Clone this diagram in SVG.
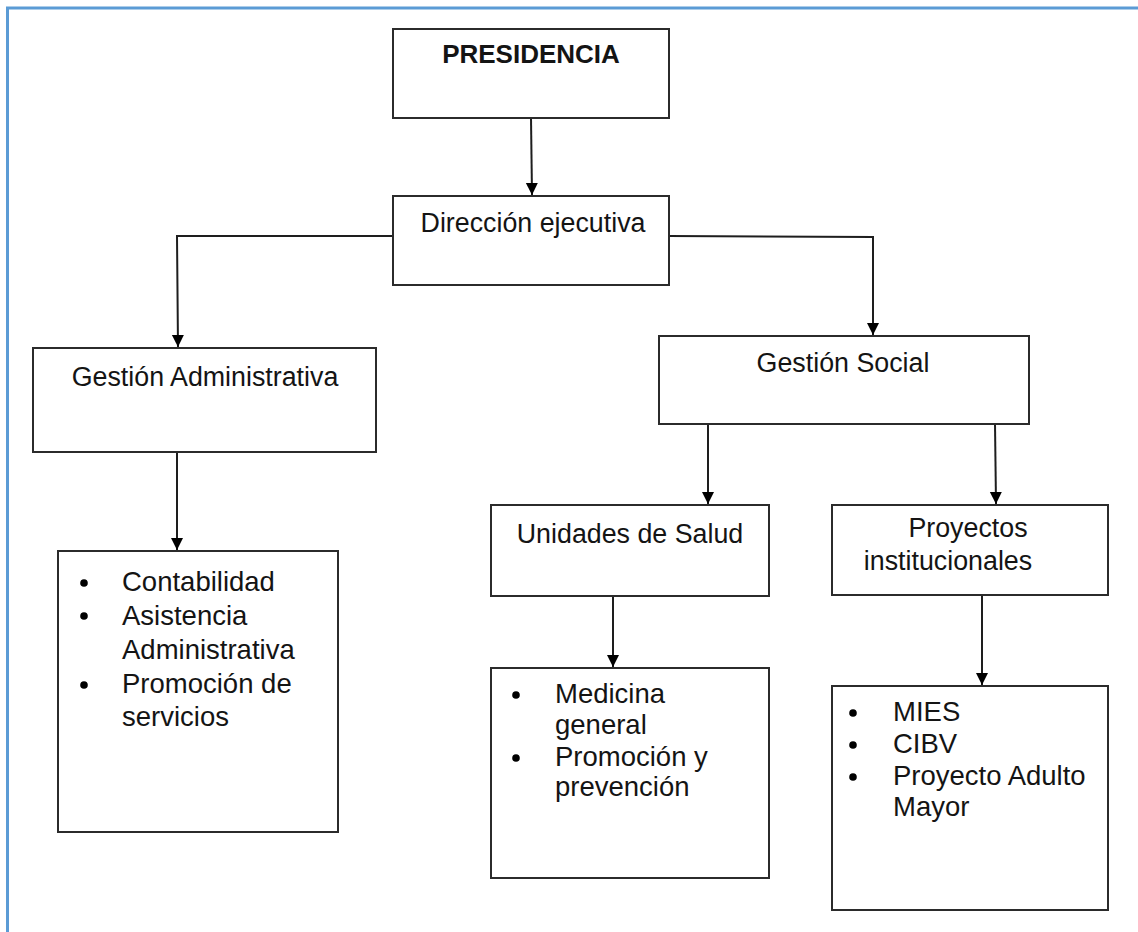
<svg xmlns="http://www.w3.org/2000/svg" width="1138" height="932" viewBox="0 0 1138 932">
  <style>
    .box { fill: #ffffff; stroke: #2b2b2b; stroke-width: 2; }
    .title { font-family: "Liberation Sans", Arial, sans-serif; font-size: 26.8px; fill: #141414; text-anchor: middle; }
    .bold { font-weight: bold; font-size: 26px; }
    .item { font-family: "Liberation Sans", Arial, sans-serif; font-size: 27.5px; fill: #141414; }
    .bullet { fill: #000000; }
    .link { fill: none; stroke: #1e1e1e; stroke-width: 2; marker-end: url(#arrow); }
  </style>
  <defs>
    <marker id="arrow" markerWidth="13" markerHeight="13" refX="12" refY="6.5" orient="auto" markerUnits="userSpaceOnUse">
      <path d="M0,0.5 L12,6.5 L0,12.5 z" fill="#000000"/>
    </marker>
  </defs>

  <rect width="1138" height="932" fill="#ffffff"/>
  <!-- page frame -->
  <path d="M7.5,932 V8 H1138" fill="none" stroke="#5b9bd5" stroke-width="3"/>

  <g id="connectors">
    <line class="link" x1="531" y1="118" x2="532" y2="195"/>
    <polyline class="link" points="393,236 177,236 178,347"/>
    <polyline class="link" points="669,236 873,237 873,335"/>
    <line class="link" x1="177" y1="452" x2="177" y2="550"/>
    <line class="link" x1="708" y1="424" x2="708" y2="504"/>
    <line class="link" x1="995" y1="424" x2="996" y2="504"/>
    <line class="link" x1="613" y1="596" x2="613" y2="667"/>
    <line class="link" x1="982" y1="595" x2="982" y2="685"/>
  </g>

  <g id="presidencia">
    <rect class="box" x="393" y="29" width="276" height="89"/>
    <text class="title bold" x="531" y="63">PRESIDENCIA</text>
  </g>

  <g id="direccion-ejecutiva">
    <rect class="box" x="393" y="196" width="276" height="89"/>
    <text class="title" x="533" y="232">Dirección ejecutiva</text>
  </g>

  <g id="gestion-administrativa">
    <rect class="box" x="33" y="348" width="343" height="104"/>
    <text class="title" x="205" y="386">Gestión Administrativa</text>
  </g>

  <g id="gestion-social">
    <rect class="box" x="659" y="336" width="370" height="88"/>
    <text class="title" x="843" y="372">Gestión Social</text>
  </g>

  <g id="unidades-salud">
    <rect class="box" x="491" y="505" width="278" height="91"/>
    <text class="title" x="630" y="543">Unidades de Salud</text>
  </g>

  <g id="proyectos-institucionales">
    <rect class="box" x="832" y="505" width="276" height="90"/>
    <text class="title" x="968" y="537">Proyectos</text>
    <text class="title" x="948" y="570">institucionales</text>
  </g>

  <g id="lista-administrativa">
    <rect class="box" x="58" y="551" width="280" height="281"/>
    <circle class="bullet" cx="84" cy="583" r="3.8"/>
    <circle class="bullet" cx="84" cy="616" r="3.8"/>
    <circle class="bullet" cx="84" cy="685" r="3.8"/>
    <text class="item" x="122" y="591">Contabilidad</text>
    <text class="item" x="122" y="625">Asistencia</text>
    <text class="item" x="122" y="659">Administrativa</text>
    <text class="item" x="122" y="693">Promoción de</text>
    <text class="item" x="122" y="726">servicios</text>
  </g>

  <g id="lista-salud">
    <rect class="box" x="491" y="668" width="278" height="210"/>
    <circle class="bullet" cx="516" cy="695" r="3.8"/>
    <circle class="bullet" cx="516" cy="758" r="3.8"/>
    <text class="item" x="555" y="703">Medicina</text>
    <text class="item" x="555" y="734">general</text>
    <text class="item" x="555" y="766">Promoción y</text>
    <text class="item" x="555" y="796">prevención</text>
  </g>

  <g id="lista-proyectos">
    <rect class="box" x="832" y="686" width="276" height="224"/>
    <circle class="bullet" cx="853" cy="713" r="3.8"/>
    <circle class="bullet" cx="853" cy="745" r="3.8"/>
    <circle class="bullet" cx="853" cy="777" r="3.8"/>
    <text class="item" x="893" y="721">MIES</text>
    <text class="item" x="893" y="753">CIBV</text>
    <text class="item" x="893" y="785">Proyecto Adulto</text>
    <text class="item" x="893" y="816">Mayor</text>
  </g>
</svg>
